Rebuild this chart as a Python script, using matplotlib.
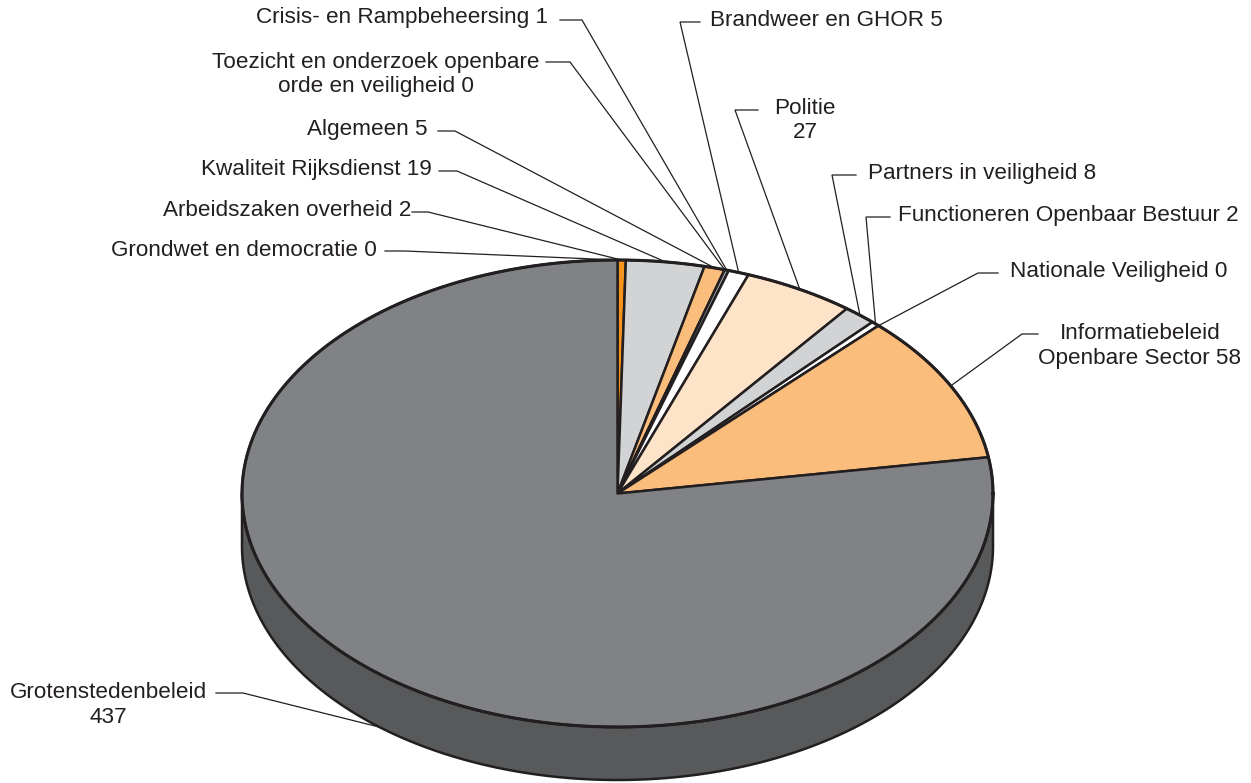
import numpy as np
import matplotlib
matplotlib.use("Agg")
import matplotlib.pyplot as plt
from matplotlib.patches import Polygon

# ---------------- data (clockwise from 12 o'clock) ----------------
categories = [
    "Grondwet en democratie",
    "Arbeidszaken overheid",
    "Kwaliteit Rijksdienst",
    "Algemeen",
    "Toezicht en onderzoek openbare\norde en veiligheid",
    "Crisis- en Rampbeheersing",
    "Brandweer en GHOR",
    "Politie",
    "Partners in veiligheid",
    "Functioneren Openbaar Bestuur",
    "Nationale Veiligheid",
    "Informatiebeleid\nOpenbare Sector",
    "Grotenstedenbeleid",
]
values = [0, 2, 19, 5, 0, 1, 5, 27, 8, 2, 0, 58, 437]
label_texts = [
    "Grondwet en democratie 0",
    "Arbeidszaken overheid 2",
    "Kwaliteit Rijksdienst 19",
    "Algemeen 5",
    "Toezicht en onderzoek openbare\norde en veiligheid 0",
    "Crisis- en Rampbeheersing 1",
    "Brandweer en GHOR 5",
    "Politie\n27",
    "Partners in veiligheid 8",
    "Functioneren Openbaar Bestuur 2",
    "Nationale Veiligheid 0",
    "Informatiebeleid\nOpenbare Sector 58",
    "Grotenstedenbeleid\n437",
]

# ---------------- styles ----------------
face_colors = ["#F7941D", "#F7941D", "#D1D3D4", "#FBBD7B", "#808285", "#A7A9AC",
               "#FFFFFF", "#FDE4C8", "#D1D3D4", "#FFFFFF", "#FFFFFF", "#FBBD7B", "#808285"]
side_colors = ["#B86A10", "#B86A10", "#9C9EA0", "#C08A55", "#58595B", "#7A7C7E",
               "#BBBBBB", "#C0A88C", "#9C9EA0", "#BBBBBB", "#BBBBBB", "#C08A55", "#58595B"]
EDGE = "#231F20"

# layout (pixel coordinates): text anchor, alignment, horizontal tick (x0,x1,y)
# tick x1 is where the diagonal leader starts
layout = [
    dict(tx=377, ty=250, ha="right", tick=(385, 405, 251)),
    dict(tx=411, ty=211, ha="right", tick=(412, 428, 212)),
    dict(tx=432, ty=169, ha="right", tick=(439, 457, 171)),
    dict(tx=428, ty=129, ha="right", tick=(438, 455, 131)),
    dict(tx=376, ty=74.5, ha="center", tick=(546, 570, 62)),
    dict(tx=548, ty=18, ha="right", tick=(560, 582, 20)),
    dict(tx=710, ty=20, ha="left", tick=(700, 680, 22)),
    dict(tx=805, ty=120.5, ha="center", tick=(758, 735, 110)),
    dict(tx=868, ty=174, ha="left", tick=(856, 832, 175)),
    dict(tx=898, ty=216, ha="left", tick=(890, 866, 217)),
    dict(tx=1010, ty=272, ha="left", tick=(998, 978, 273)),
    dict(tx=1140, ty=346, ha="center", tick=(1038, 1022, 334)),
    dict(tx=108, ty=705, ha="center", tick=(216, 243, 693)),
]

W, H = 1251, 783
cx, cy, rx, ry, depth = 617.5, 493.5, 375.5, 233.5, 53

plt.rcParams['font.family'] = ['Liberation Sans', 'DejaVu Sans']
fig = plt.figure(figsize=(W / 100, H / 100), dpi=100)
ax = fig.add_axes([0, 0, 1, 1])
ax.set_xlim(0, W)
ax.set_ylim(H, 0)
ax.axis("off")

vals = np.array(values, dtype=float)
fr = vals / vals.sum() * 360.0
starts = 90.0 - np.concatenate([[0], np.cumsum(fr)[:-1]])
ends = starts - fr


def rim(theta_deg, dy=0.0):
    t = np.radians(theta_deg)
    return np.column_stack([cx + rx * np.cos(t), cy - ry * np.sin(t) + dy])

# --- side (visible front part: angles in [180, 360] mod 360) ---
for s, e, sc in zip(starts, ends, side_colors):
    for k in range(-2, 2):
        lo = max(e, 180 + 360 * k)
        hi = min(s, 360 + 360 * k)
        if hi > lo:
            th = np.linspace(lo, hi, 200)
            top = rim(th)
            bot = rim(th[::-1], depth)
            poly = Polygon(np.vstack([top, bot]), closed=True, facecolor=sc,
                           edgecolor=EDGE, linewidth=1.8, joinstyle="round", zorder=1)
            ax.add_patch(poly)

# --- top faces ---
for s, e, fc in zip(starts, ends, face_colors):
    th = np.linspace(s, e, max(int(abs(s - e) * 3), 2))
    pts = np.vstack([[cx, cy], rim(th)])
    ax.add_patch(Polygon(pts, closed=True, facecolor=fc, edgecolor=EDGE,
                         linewidth=1.8, joinstyle="round", zorder=2))

# outer rim outline
th = np.linspace(0, 360, 720)
p = rim(th)
ax.plot(p[:, 0], p[:, 1], color=EDGE, lw=2.2, zorder=3)

# --- labels and leader lines ---
for s, e, txt, lay in zip(starts, ends, label_texts, layout):
    mid = (s + e) / 2.0
    pt = rim(np.array([mid]))[0]
    if np.sin(np.radians(mid)) < 0:
        pt = pt + np.array([4, depth * 1.05])
    x0, x1, yt = lay["tick"]
    ax.plot([x0, x1, pt[0]], [yt, yt, pt[1]], color=EDGE, lw=0.9, zorder=4,
            solid_joinstyle="miter")
    ax.text(lay["tx"], lay["ty"], txt, ha=lay["ha"], va="center",
            multialignment="center", fontsize=16.2, color="#231F20",
            linespacing=1.22, zorder=5)

fig.savefig("out.png", dpi=100)
